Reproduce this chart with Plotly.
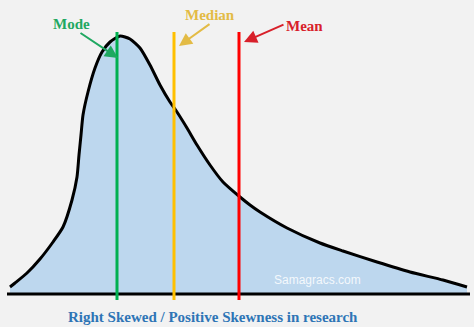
import plotly.graph_objects as go

# Density curve of a right-skewed distribution (x position, height above the baseline)
curve_x = [10, 15, 27, 40, 53, 63, 72, 77, 79, 81, 83, 88, 95, 102, 110, 120,
           130, 140, 150, 160, 170, 177, 187, 197, 210, 223, 240, 250, 260, 287,
           320, 343, 377, 410, 443, 467]
curve_h = [7, 11, 21, 35, 52, 67, 94, 117, 139, 159, 179, 202, 226, 242, 252, 258,
           255, 246, 229, 209, 192, 182, 166, 149, 129, 112, 97, 89, 82, 66,
           51, 43, 32, 22, 14, 7]

# Central tendency markers
stat_names = ["Mode", "Median", "Mean"]
stat_x = [117, 174, 239]
line_colors = ["#00b050", "#ffc000", "#ff0000"]
text_colors = ["#1fa861", "#e3bb45", "#d8202a"]
# Label anchor (x, height), arrow tail (x, height) and arrow tip height
label_x = [71, 210, 304]
label_h = [270, 279, 268]
tail_x = [79, 211, 285]
tail_h = [262, 271, 270]
tip_h = [236, 248, 252]

baseline_x = [7, 470]
line_top = 262
line_bottom = -6

title_text = "Right Skewed / Positive Skewness in research"
watermark = "Samagracs.com"

fig = go.Figure()

fig.add_trace(go.Scatter(
    x=curve_x, y=curve_h, mode="lines",
    line=dict(color="black", width=3, shape="spline", smoothing=0.6),
    fill="tozeroy", fillcolor="#bdd7ee", hoverinfo="skip", showlegend=False,
))

fig.add_trace(go.Scatter(
    x=baseline_x, y=[0, 0], mode="lines",
    line=dict(color="black", width=3), hoverinfo="skip", showlegend=False,
))

for name, sx, lc in zip(stat_names, stat_x, line_colors):
    fig.add_trace(go.Scatter(
        x=[sx, sx], y=[line_bottom, line_top], mode="lines",
        line=dict(color=lc, width=3), name=name, hoverinfo="skip", showlegend=False,
    ))

annotations = []
for name, sx, tc, lx, lh, tx, th, ph in zip(stat_names, stat_x, text_colors,
                                            label_x, label_h, tail_x, tail_h, tip_h):
    annotations.append(dict(
        x=lx, y=lh, xref="x", yref="y", text=f"<b>{name}</b>", showarrow=False,
        font=dict(family="Liberation Serif", size=15, color=tc),
    ))
    tip_x = sx + (1 if name == "Mode" else 5)
    annotations.append(dict(
        x=tip_x, y=ph, ax=tx, ay=th, xref="x", yref="y", axref="x", ayref="y",
        text="", showarrow=True, arrowhead=2, arrowsize=1.3, arrowwidth=2,
        arrowcolor=tc,
    ))

annotations.append(dict(
    x=317, y=14, xref="x", yref="y", text=watermark, showarrow=False,
    font=dict(family="Liberation Sans", size=12, color="rgba(255,255,255,0.85)"),
))
annotations.append(dict(
    x=213, y=-23, xref="x", yref="y", text=f"<b>{title_text}</b>", showarrow=False,
    font=dict(family="Liberation Serif", size=15, color="#2e75b6"),
))

fig.update_layout(
    width=474, height=327,
    margin=dict(l=0, r=0, t=0, b=0),
    paper_bgcolor="#f2f2f2", plot_bgcolor="#f2f2f2",
    xaxis=dict(range=[0, 474], visible=False, fixedrange=True),
    yaxis=dict(range=[-33, 294], visible=False, fixedrange=True),
    annotations=annotations,
    showlegend=False,
)

fig.write_html("out.html")
